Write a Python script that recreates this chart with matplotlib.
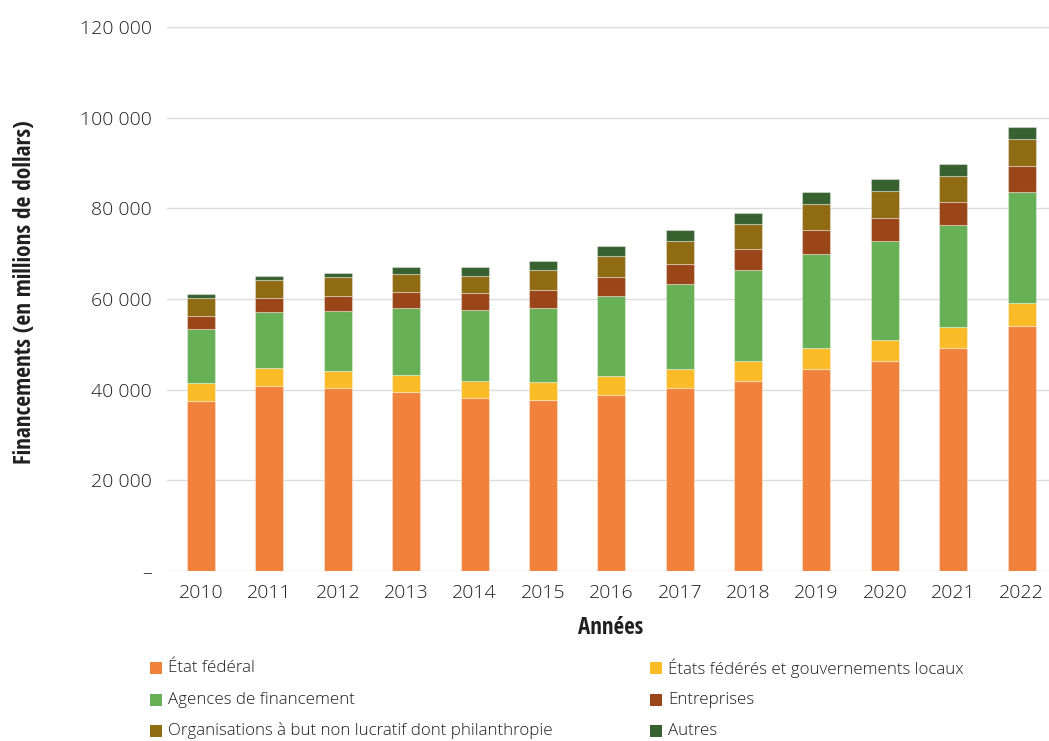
import matplotlib
matplotlib.use("Agg")
import matplotlib.pyplot as plt
from matplotlib.patches import Rectangle
from matplotlib.ticker import FuncFormatter

years = ["2010", "2011", "2012", "2013", "2014", "2015", "2016",
         "2017", "2018", "2019", "2020", "2021", "2022"]
etat_federal = [37490, 40800, 40290, 39470, 38060, 37820, 38850,
                40310, 41980, 44540, 46240, 49260, 54020]
etats_federes = [3900, 3900, 3810, 3830, 3930, 3970, 4080,
                 4190, 4410, 4630, 4630, 4480, 5010]
agences = [11910, 12350, 13320, 14700, 15480, 16310, 17640,
           18700, 19910, 20820, 21830, 22490, 24470]
entreprises = [2930, 3150, 3220, 3450, 3780, 3970, 4190,
               4560, 4700, 5130, 5140, 5140, 5740]
organisations = [3900, 3900, 4120, 3970, 3910, 4330, 4740,
                 5010, 5510, 5740, 5880, 5730, 6020]
autres = [950, 1030, 950, 1550, 1980, 2070, 2200,
          2350, 2520, 2790, 2720, 2730, 2640]

series = [
    ("État fédéral", etat_federal, "#F0823C"),
    ("États fédérés et gouvernements locaux", etats_federes, "#FBBB27"),
    ("Agences de financement", agences, "#68B055"),
    ("Entreprises", entreprises, "#9A4618"),
    ("Organisations à but non lucratif dont philanthropie", organisations, "#8F6B13"),
    ("Autres", autres, "#386130"),
]

plt.rcParams['font.family'] = ['Open Sans', 'DejaVu Sans']
plt.rcParams['font.weight'] = 300
TXT = '#1F1F1F'

fig = plt.figure(figsize=(10.49, 7.41), dpi=100)
ax = fig.add_axes([0.159, 0.2294, 0.841, 0.7342])

x = list(range(len(years)))
bottom = [0] * len(years)
for name, vals, col in series:
    ax.bar(x, vals, width=0.41, bottom=bottom, color=col,
           edgecolor=(1, 1, 1, 0.35), linewidth=0.8, zorder=3)
    bottom = [b + v for b, v in zip(bottom, vals)]

ax.set_ylim(0, 120000)
ax.set_xlim(-0.5, 12.4)
ax.set_yticks(range(0, 120001, 20000))
ax.yaxis.set_major_formatter(FuncFormatter(
    lambda v, p: "–" if v == 0 else f"{int(v):,}".replace(",", " ")))
ax.set_xticks(x)
ax.set_xticklabels(years)
ax.grid(axis='y', color='#DCDCDC', linewidth=1, zorder=0)
for s in ['top', 'right', 'left', 'bottom']:
    ax.spines[s].set_visible(False)
ax.tick_params(axis='both', length=0, labelsize=14, colors=TXT)
ax.tick_params(axis='y', pad=11)
ax.tick_params(axis='x', pad=9)
for t in ax.get_xticklabels() + ax.get_yticklabels():
    t.set_fontweight(300)

bold = dict(family=['Open Sans Condensed', 'Open Sans', 'DejaVu Sans'],
            fontweight='bold', fontstretch='condensed', color=TXT)
fig.text(0.024, 0.606, "Financements (en millions de dollars)", rotation=90,
         ha='center', va='center', fontsize=16.8, **bold)
fig.text(0.582, 0.152, "Années", ha='center', va='center', fontsize=16.5, **bold)

legend_rows = [(series[0], series[1]), (series[2], series[3]), (series[4], series[5])]
row_y = [668, 700, 731]
col_x = [150, 650]
W, H = 1049, 741
sq = 12
for (a, b), yy in zip(legend_rows, row_y):
    for (name, _, col), xx in zip((a, b), col_x):
        fig.add_artist(Rectangle((xx / W, (H - yy - sq / 2) / H), sq / W, sq / H,
                                 transform=fig.transFigure, facecolor=col,
                                 edgecolor='none'))
        fig.text((xx + sq + 6) / W, (H - yy) / H, name, ha='left',
                 va='center', fontsize=12.2, color=TXT, fontweight=300)

fig.savefig("out.png", dpi=100)
